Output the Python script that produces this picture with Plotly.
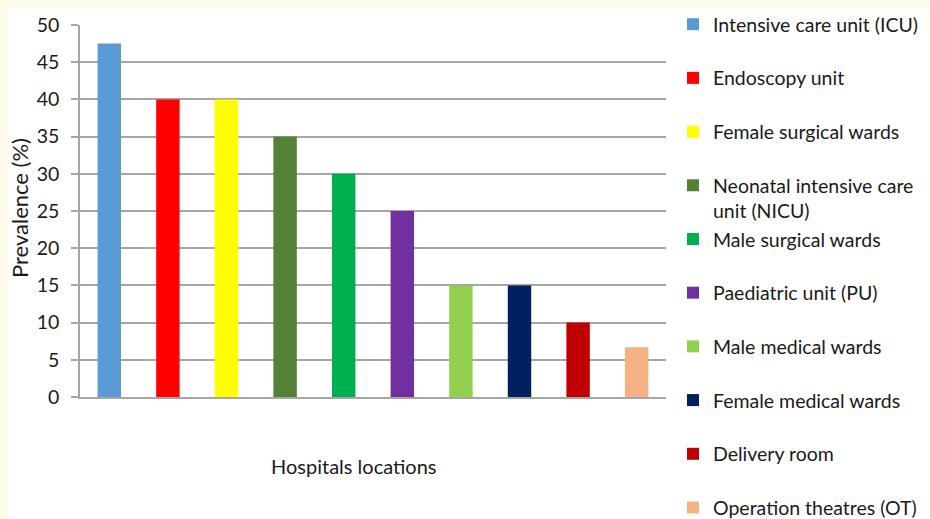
import plotly.graph_objects as go

categories = [
    "Intensive care unit (ICU)",
    "Endoscopy unit",
    "Female surgical wards",
    "Neonatal intensive care<br>unit (NICU)",
    "Male surgical wards",
    "Paediatric unit (PU)",
    "Male medical wards",
    "Female medical wards",
    "Delivery room",
    "Operation theatres (OT)",
]
values = [47.5, 40, 40, 35, 30, 25, 15, 15, 10, 6.7]
colors = ["#5B9BD5", "#FF0000", "#FFFF00", "#548235", "#00B050",
          "#7030A0", "#92D050", "#002060", "#C00000", "#F4B183"]
y_ticks = [0, 5, 10, 15, 20, 25, 30, 35, 40, 45, 50]

FONT = "Lato"
TXT = "#1a1a1a"
fig = go.Figure()
for i, (cat, val, col) in enumerate(zip(categories, values, colors)):
    name = cat if "<br>" in cat else cat + "<br> "
    fig.add_trace(go.Bar(
        x=[i], y=[val], name=name, marker_color=col,
        marker_line_width=0, legendgroup=f"g{i}",
        hoverinfo="skip",
    ))

W, H = 930, 519
L, R, T, B = 80, 264, 25, 122
pw, ph = W - L - R, H - T - B

def px_x(p):
    return (p - L) / pw

def px_y(p):
    return (H - B - p) / ph

fig.update_layout(
    width=W, height=H,
    margin=dict(l=L, r=R, t=T, b=B, pad=0, autoexpand=False),
    paper_bgcolor="#FDFAEA",
    plot_bgcolor="white",
    barmode="overlay",
    bargap=0.6,
    font=dict(family=FONT, size=19, color=TXT),
    showlegend=True,
    legend=dict(
        x=px_x(673), xanchor="left",
        y=px_y(5), yanchor="top",
        font=dict(family=FONT, size=19.5, color=TXT),
        bgcolor="rgba(0,0,0,0)",
        tracegroupgap=0,
        valign="top",
        itemwidth=30,
        maxheight=1000,
    ),
    xaxis=dict(
        range=[-0.5, len(categories) - 0.5],
        showticklabels=False, showgrid=False, zeroline=False,
        showline=True, linecolor="#A6A6A6", linewidth=1.5,
        ticks="", fixedrange=True,
    ),
    yaxis=dict(
        range=[0, 50], tickvals=y_ticks,
        ticks="outside", ticklen=7, tickcolor="#A6A6A6", tickwidth=1.5,
        ticklabelstandoff=8,
        showgrid=True, gridcolor="#A6A6A6", gridwidth=1.5,
        showline=True, linecolor="#A6A6A6", linewidth=1.5,
        zeroline=False,
        tickfont=dict(family=FONT, size=19.5, color=TXT),
    ),
    shapes=[dict(
        type="rect", xref="paper", yref="paper", layer="below",
        x0=px_x(8), x1=px_x(W + 5), y0=px_y(H + 5), y1=px_y(7),
        fillcolor="white", line_width=0,
    )],
    annotations=[
        dict(
            text="Hospitals locations", xref="paper", yref="paper",
            x=px_x(353), y=px_y(466), xanchor="center", yanchor="middle",
            showarrow=False, font=dict(family=FONT, size=20, color=TXT),
        ),
        dict(
            text="Prevalence (%)", xref="paper", yref="paper",
            x=px_x(19), y=px_y(208), xanchor="center", yanchor="middle",
            textangle=-90,
            showarrow=False, font=dict(family=FONT, size=22, color=TXT),
        ),
    ],
)

fig.write_html("out.html")
